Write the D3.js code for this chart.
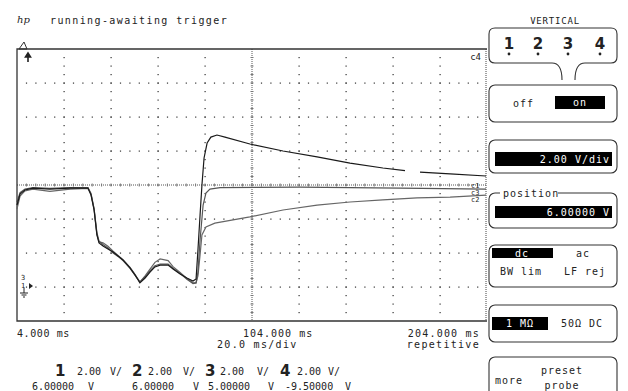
<!DOCTYPE html>
<html>
<head>
<meta charset="utf-8">
<script src="https://cdn.jsdelivr.net/npm/d3@7"></script>
<style>
  body { margin: 0; background: #fff; }
  svg text { font-family: "DejaVu Sans Mono", monospace; fill: #222; }
</style>
</head>
<body>
<div id="chart"></div>
<script>
// time base (ms) and vertical range (V) of the screen
var timeDomain = [4, 204];
var voltDomain = [-2, 14];
var timeLabels = ["4.000 ms", "104.000 ms", "204.000 ms"];

// shared sweep times for the first part of every trace
var sweepTime = [4, 5.3, 7.4, 10.8, 18.0, 26.6, 34.2, 35.5, 36.8, 38.0, 38.9, 40.6, 42.7, 44.9, 47.0, 49.1,
                 52.1, 54.2, 56.3, 58.5, 60.6, 62.7, 64.9, 68.3, 70.4, 73.4, 76.3, 78.9, 80.2, 81.0, 81.9];
var ch1Early = [4.82, 5.47, 5.71, 5.82, 5.76, 5.82, 5.82, 5.41, 4.53, 3.06, 2.59, 2.41, 2.24, 2.06, 1.82, 1.59,
                1.12, 0.71, 0.24, 0.53, 0.88, 1.18, 1.29, 1.29, 1.06, 0.76, 0.53, 0.35, 0.47, 2.18, 4.24];
var ch2Early = [5.0, 5.55, 5.76, 5.85, 5.8, 5.85, 5.85, 5.5, 4.6, 3.2, 2.7, 2.5, 2.3, 2.0, 1.8, 1.55,
                1.1, 0.7, 0.3, 0.6, 0.95, 1.25, 1.35, 1.35, 1.1, 0.8, 0.45, 0.2, 0.24, 0.88, 2.76];
var ch3Early = [4.6, 5.35, 5.65, 5.76, 5.62, 5.76, 5.8, 5.45, 4.6, 3.1, 2.65, 2.6, 2.4, 2.1, 1.85, 1.6,
                1.15, 0.75, 0.28, 0.65, 1.05, 1.45, 1.65, 1.55, 1.2, 0.85, 0.5, 0.25, 0.24, 0.65, 1.88];

// after the rising edge the three traces split
var ch1LateTime = [82.7, 83.6, 84.9, 86.5, 89.1, 92.5, 103.1, 117.2, 131.7, 145.7, 159.7, 169.1, 172, 175.5, 188.3, 203.6];
var ch1LateVolt = [6.0, 7.59, 8.47, 8.82, 8.94, 8.82, 8.41, 8.0, 7.65, 7.29, 7.0, 6.85, NaN, 6.76, 6.65, 6.53];
var ch2LateTime = [83.2, 84.4, 86.1, 90.4, 124.4, 167.0, 203.6];
var ch2LateVolt = [4.82, 5.53, 5.76, 5.85, 5.88, 5.82, 5.76];
var ch3LateTime = [82.7, 84.4, 88.2, 103.1, 117.2, 131.7, 145.7, 159.7, 174.2, 188.3, 203.6];
var ch3LateVolt = [3.06, 3.53, 3.76, 4.12, 4.53, 4.82, 5.0, 5.12, 5.24, 5.29, 5.41];

// channel readouts
var channels = ["1", "2", "3", "4"];
var chScale = ["2.00", "2.00", "2.00", "2.00"];
var chOffset = ["6.00000", "6.00000", "5.00000", "-9.50000"];

function toPoints(times, volts) {
  return times.map(function(t, i){ return {t: t, v: volts[i]}; });
}
var traces = [
  {color: "#1a1a1a", pts: toPoints(sweepTime, ch1Early).concat(toPoints(ch1LateTime, ch1LateVolt))},
  {color: "#555", pts: toPoints(sweepTime, ch2Early).concat(toPoints(ch2LateTime, ch2LateVolt))},
  {color: "#666", pts: toPoints(sweepTime, ch3Early).concat(toPoints(ch3LateTime, ch3LateVolt))}
];

var W = 628, H = 391;
var svg = d3.select("#chart").append("svg").attr("width", W).attr("height", H);

var x = d3.scaleLinear().domain(timeDomain).range([17, 487]);
var y = d3.scaleLinear().domain(voltDomain).range([321, 49]);

var xMajor = d3.range(timeDomain[0], timeDomain[1] + 0.1, 20);
var yMajor = d3.range(voltDomain[0], voltDomain[1] + 0.1, 2);
var xMinor = d3.range(timeDomain[0], timeDomain[1] + 0.1, 4);
var yMinor = d3.range(voltDomain[0], voltDomain[1] + 0.1, 0.5);
var xMid = 104, yMid = 6;

var grid = svg.append("g");
// dots along vertical graticule lines
xMajor.slice(1, -1).filter(function(t){ return t !== xMid; }).forEach(function(t){
  grid.selectAll(null).data(yMinor.slice(1, -1)).enter().append("rect")
    .attr("x", x(t) - 0.5).attr("y", function(v){ return y(v) - 0.5; })
    .attr("width", 1.2).attr("height", 1.2).attr("fill", "#333");
});
// dots along horizontal graticule lines
yMajor.slice(1, -1).filter(function(v){ return v !== yMid; }).forEach(function(v){
  grid.selectAll(null).data(xMinor.slice(1, -1)).enter().append("rect")
    .attr("x", function(t){ return x(t) - 0.5; }).attr("y", y(v) - 0.5)
    .attr("width", 1.2).attr("height", 1.2).attr("fill", "#333");
});
// centre lines, dense dotted with small ticks
grid.append("line").attr("x1", x(xMid)).attr("x2", x(xMid)).attr("y1", y(voltDomain[1])).attr("y2", y(voltDomain[0]))
  .attr("stroke", "#555").attr("stroke-dasharray", "1,1");
grid.append("line").attr("x1", x(timeDomain[0])).attr("x2", x(timeDomain[1])).attr("y1", y(yMid)).attr("y2", y(yMid))
  .attr("stroke", "#555").attr("stroke-dasharray", "1,1");
grid.selectAll(null).data(yMinor.slice(1, -1)).enter().append("line")
  .attr("x1", x(xMid) - 1.5).attr("x2", x(xMid) + 1.5)
  .attr("y1", function(v){ return y(v); }).attr("y2", function(v){ return y(v); })
  .attr("stroke", "#777");
grid.selectAll(null).data(xMinor.slice(1, -1)).enter().append("line")
  .attr("y1", y(yMid) - 1.5).attr("y2", y(yMid) + 1.5)
  .attr("x1", function(t){ return x(t); }).attr("x2", function(t){ return x(t); })
  .attr("stroke", "#777");

// frame: solid top/left/bottom, dotted right
svg.append("path")
  .attr("d", "M" + x(timeDomain[1]) + "," + y(voltDomain[1]) + "H" + x(timeDomain[0]) + "V" + y(voltDomain[0]) + "H" + x(timeDomain[1]))
  .attr("fill", "none").attr("stroke", "#333").attr("stroke-width", 1.3);
svg.append("line").attr("x1", x(timeDomain[1]) - 1).attr("x2", x(timeDomain[1]) - 1)
  .attr("y1", y(voltDomain[1])).attr("y2", y(voltDomain[0]))
  .attr("stroke", "#444").attr("stroke-dasharray", "1,1");

// traces
var line = d3.line()
  .defined(function(d){ return !isNaN(d.v); })
  .x(function(d){ return x(d.t); })
  .y(function(d){ return y(d.v); });
svg.selectAll(".trace").data(traces.slice().reverse()).enter().append("path")
  .attr("class", "trace")
  .attr("d", function(d){ return line(d.pts); })
  .attr("fill", "none").attr("stroke", function(d){ return d.color; }).attr("stroke-width", 1.2);

// markers
svg.append("path").attr("d", "M19,49 L24,42 L27,49 Z").attr("fill", "none").attr("stroke", "#333");
svg.append("path").attr("d", "M28,62 V56 M25.5,57 L28,53 L30.5,57 Z").attr("stroke", "#222").attr("stroke-width", 1.6).attr("fill", "#222");
svg.append("text").attr("x", 481).attr("y", 60).attr("text-anchor", "end").style("font-size", "9px").text("c4");
svg.append("text").attr("x", 471).attr("y", 188).style("font-size", "7px").text("c1");
svg.append("text").attr("x", 471).attr("y", 195).style("font-size", "7px").text("c3");
svg.append("text").attr("x", 471).attr("y", 202).style("font-size", "7px").text("c2");
svg.append("text").attr("x", 21).attr("y", 280).style("font-size", "7px").text("3");
svg.append("text").attr("x", 21).attr("y", 288).style("font-size", "7px").text("1");
svg.append("path").attr("d", "M29,283 L33,286 L29,289 Z").attr("fill", "#222");
svg.append("path").attr("d", "M24,288 V293 M20,293 H28 M21.5,295 H26.5 M23,297 H25").attr("stroke", "#222");

// header
svg.append("text").attr("x", 17).attr("y", 23).style("font-size", "10px").style("font-style", "italic")
  .style("font-family", "DejaVu Serif").text("hp");
svg.append("text").attr("x", 50).attr("y", 24).style("font-size", "10px").style("letter-spacing", "1.4px")
  .text("running-awaiting trigger");

// time labels
svg.append("text").attr("x", 17).attr("y", 337).style("font-size", "10px").style("letter-spacing", "0.6px").text(timeLabels[0]);
svg.append("text").attr("x", 243).attr("y", 337).style("font-size", "10px").style("letter-spacing", "1px").text(timeLabels[1]);
svg.append("text").attr("x", 480).attr("y", 337).attr("text-anchor", "end").style("font-size", "10px").style("letter-spacing", "1.2px").text(timeLabels[2]);
svg.append("text").attr("x", 217).attr("y", 348).style("font-size", "10px").style("letter-spacing", "1.3px").text("20.0 ms/div");
svg.append("text").attr("x", 480).attr("y", 348).attr("text-anchor", "end").style("font-size", "10px").style("letter-spacing", "1.3px").text("repetitive");

// channel readouts
var digitX = [55, 132, 205, 280], scaleX = [77, 148, 220, 297], unitX = [110, 183, 257, 328];
var offX = [32, 132, 208, 285], offUnitX = [88, 193, 268, 345];
channels.forEach(function(c, i){
  svg.append("text").attr("x", digitX[i]).attr("y", 376).style("font-size", "15px").style("font-weight", "bold")
    .style("font-family", "DejaVu Sans").text(c);
  svg.append("text").attr("x", scaleX[i]).attr("y", 375).style("font-size", "10px").text(chScale[i]);
  svg.append("text").attr("x", unitX[i]).attr("y", 375).style("font-size", "10px").text("V/");
  svg.append("text").attr("x", offX[i]).attr("y", 390).style("font-size", "10px").text(chOffset[i]);
  svg.append("text").attr("x", offUnitX[i]).attr("y", 390).style("font-size", "10px").text("V");
});

// right soft-key panel
var panel = svg.append("g").attr("fill", "none");
function box(x0, y0, w, h) {
  panel.append("rect").attr("x", x0).attr("y", y0).attr("width", w).attr("height", h).attr("rx", 6)
    .attr("fill", "none").attr("stroke", "#333").attr("stroke-width", 1.1);
}
function inv(x0, y0, w, h) {
  svg.append("rect").attr("x", x0).attr("y", y0).attr("width", w).attr("height", h).attr("fill", "#000");
}
function label(tx, x0, y0, anchor, color) {
  svg.append("text").attr("x", x0).attr("y", y0).attr("text-anchor", anchor || "start")
    .style("font-size", "10px").style("letter-spacing", "1px").style("fill", color || "#222").text(tx);
}
svg.append("text").attr("x", 555).attr("y", 24).attr("text-anchor", "middle").style("font-size", "9px").style("letter-spacing", "0.8px").text("VERTICAL");
panel.append("path")
  .attr("d", "M562,80 Q562,63 552,63 L495,63 Q489,63 489,57 L489,34 Q489,28 495,28 L611,28 Q617,28 617,34 L617,57 Q617,63 611,63 L585,63 Q575,63 575,80")
  .attr("stroke", "#333").attr("stroke-width", 1.1);
[509, 538, 568, 600].forEach(function(px, i){
  svg.append("text").attr("x", px).attr("y", 49).attr("text-anchor", "middle").style("font-size", "15px")
    .style("font-weight", "bold").style("font-family", "DejaVu Sans").text(channels[i]);
  svg.append("circle").attr("cx", px).attr("cy", 54).attr("r", 1.4).attr("fill", "#222");
});
box(489, 85, 128, 37);
label("off", 513, 107);
inv(555, 96, 50, 13);
label("on", 580, 106, "middle", "#fff");

box(489, 140, 128, 33);
inv(495, 152, 117, 14);
label("2.00  V/div", 610, 163, "end", "#fff");

box(489, 193, 128, 35);
svg.append("rect").attr("x", 500).attr("y", 188).attr("width", 58).attr("height", 10).attr("fill", "#fff");
label("position", 503, 197);
inv(495, 206, 117, 12);
label("6.00000  V", 610, 216, "end", "#fff");

box(489, 245, 128, 42);
inv(492, 248, 61, 10);
label("dc", 522, 257, "middle", "#fff");
label("ac", 583, 257, "middle");
label("BW lim", 521, 275, "middle");
label("LF rej", 585, 275, "middle");

box(489, 305, 128, 37);
inv(492, 317, 56, 13);
label("1 MΩ", 520, 327, "middle", "#fff");
label("50Ω DC", 582, 327, "middle");

box(489, 357, 128, 50);
label("more", 509, 384, "middle");
label("preset", 562, 374, "middle");
label("probe", 562, 389, "middle");
</script>
</body>
</html>
